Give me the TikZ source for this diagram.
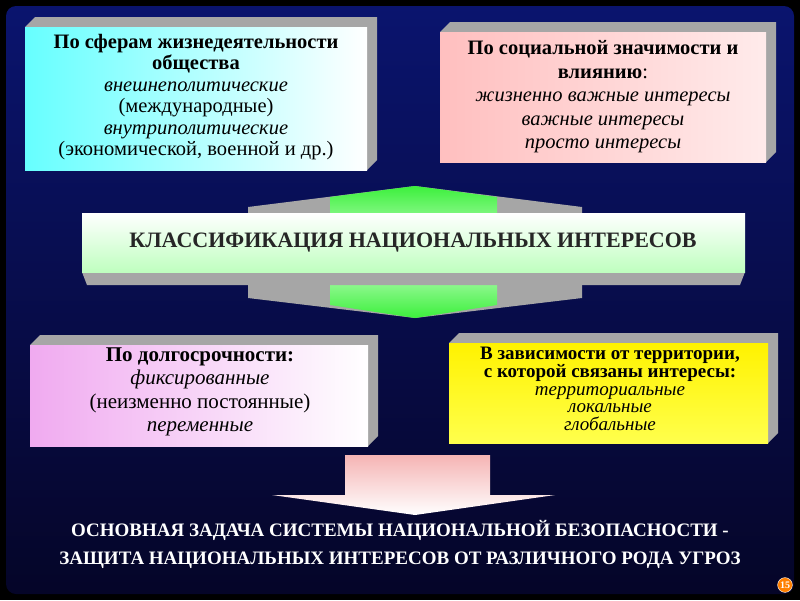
\documentclass[tikz,border=0pt]{standalone}
\usepackage{fontspec}
\setmainfont{Liberation Serif}
\newfontfamily\tms{Liberation Serif}
\usepackage{xcolor}
\begin{document}
\begin{tikzpicture}[x=1pt,y=-1pt,
  txt/.style={align=center,font=\tms\fontsize{20.5}{22}\selectfont,text=black,inner sep=0pt},
  side/.style={fill=gray!70},
  lbl/.style={font=\tms\fontsize{19}{28}\selectfont\bfseries,text=white,align=center}]
\useasboundingbox (0,0) rectangle (800,600);
\fill[black] (0,0) rectangle (800,600);
\shade[rounded corners=10pt,top color={rgb,255:red,10;green,20;blue,110},bottom color={rgb,255:red,5;green,5;blue,40}] (6,6) rectangle (794,594);
% box 1
\fill[side] (25,27)--(35,17)--(377,17)--(377,160)--(367,170)--(367,27)--cycle;
\shade[left color=cyan!60,right color=white] (25,27) rectangle (367,170);
\node[txt,font=\tms\fontsize{20.5}{21.5}\selectfont] (b1) at (196,97) {\textbf{По сферам жизнедеятельности}\\\textbf{общества}\\\textit{внешнеполитические}\\(международные)\\\textit{внутриполитические}\\(экономической, военной и др.)};
% box 2
\fill[side] (440,32)--(450,22)--(776,22)--(776,152)--(766,162)--(766,32)--cycle;
\shade[left color=red!25,right color=red!8] (440,32) rectangle (766,162);
\node[txt,font=\tms\fontsize{20.5}{23.5}\selectfont] (b2) at (603,97) {\textbf{По социальной значимости и}\\\textbf{влиянию}:\\\textit{жизненно важные интересы}\\\textit{важные интересы}\\\textit{просто интересы}};
% middle arrow
\fill[side] (248,207)--(415,186)--(582,207)--(582,298)--(415,318)--(248,298)--cycle;
\shade[top color={rgb,255:red,60;green,240;blue,60},bottom color={rgb,255:red,60;green,240;blue,60},middle color=green!15] (330,197)--(415,186)--(497,197)--(497,305)--(415,318)--(330,305)--cycle;
\fill[side] (82,272)--(745,272)--(740,285)--(87,285)--cycle;
\shade[top color=white,bottom color=green!25] (82,213) rectangle (745,272);
\node[font=\tms\fontsize{22}{24}\selectfont\bfseries,text=black!85] (t) at (413,243) {КЛАССИФИКАЦИЯ НАЦИОНАЛЬНЫХ ИНТЕРЕСОВ};
% box 3
\fill[side] (30,345)--(40,335)--(378,335)--(378,436)--(368,446)--(368,345)--cycle;
\shade[left color={rgb,255:red,240;green,170;blue,240},right color=white] (30,345) rectangle (368,446);
\node[txt,font=\tms\fontsize{21}{23.5}\selectfont] (b3) at (200,392) {\textbf{По долгосрочности:}\\\textit{фиксированные}\\(неизменно постоянные)\\\textit{переменные}};
% box 4
\fill[side] (449,343)--(459,333)--(778,333)--(778,433)--(768,443)--(768,343)--cycle;
\shade[top color=yellow!90!orange,bottom color=yellow!70!white] (449,343) rectangle (768,443);
\node[txt,font=\tms\fontsize{19}{17.8}\selectfont] (b4) at (610,389) {\textbf{В зависимости от территории,}\\\textbf{с которой связаны интересы:}\\\textit{территориальные}\\\textit{локальные}\\\textit{глобальные}};
% down arrow
\shade[top color={rgb,255:red,245;green,180;blue,180},bottom color=white] (345,455)--(490,455)--(490,495)--(555,495)--(415,515)--(272,495)--(345,495)--cycle;
\node[lbl] (main) at (400,544) {ОСНОВНАЯ ЗАДАЧА СИСТЕМЫ НАЦИОНАЛЬНОЙ БЕЗОПАСНОСТИ -\\ЗАЩИТА НАЦИОНАЛЬНЫХ ИНТЕРЕСОВ ОТ РАЗЛИЧНОГО РОДА УГРОЗ};
% page number
\node[circle,fill=orange,draw=white,inner sep=1pt,font=\tms\fontsize{10}{10}\selectfont\bfseries,text=white] (pn) at (785,585) {15};
\end{tikzpicture}
\end{document}
